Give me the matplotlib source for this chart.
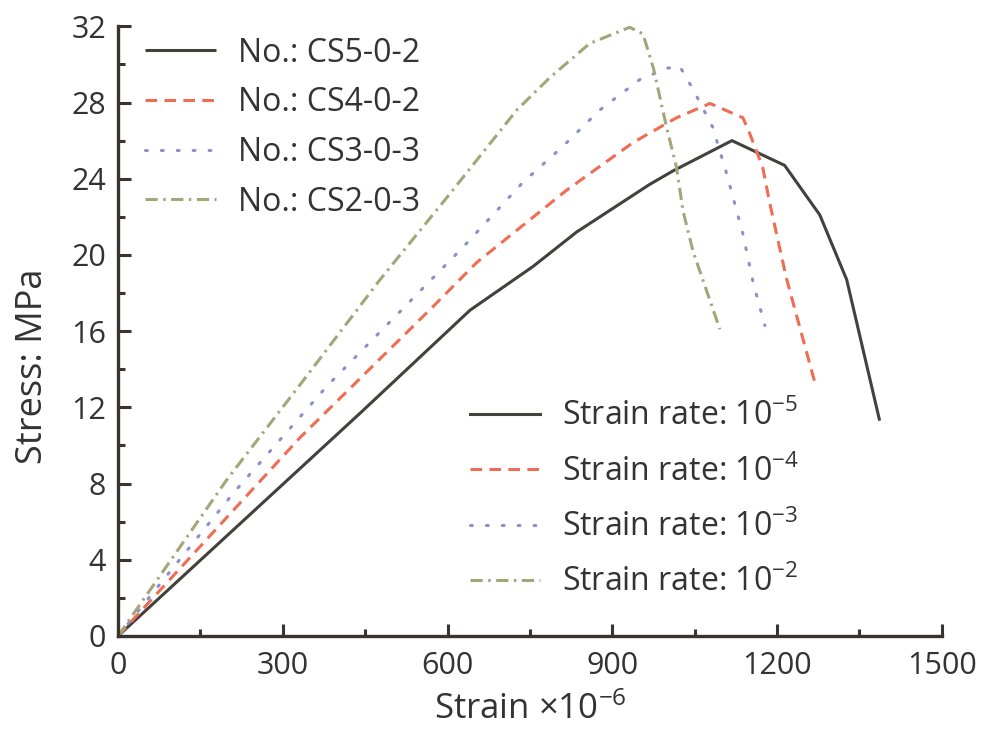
import matplotlib
matplotlib.use("Agg")
import matplotlib.pyplot as plt
from matplotlib.lines import Line2D
from matplotlib.ticker import MultipleLocator

plt.rcParams['font.family'] = ['Open Sans', 'DejaVu Sans']
plt.rcParams['mathtext.fontset'] = 'custom'
plt.rcParams['mathtext.rm'] = 'Open Sans'
plt.rcParams['mathtext.it'] = 'Open Sans'

# Stress-strain curves (strain in 1e-6, stress in MPa)
strain_cs5 = [0, 441, 641, 756, 835, 968, 1010, 1118, 1214, 1278, 1327, 1387]
stress_cs5 = [0, 11.7, 17.1, 19.4, 21.2, 23.7, 24.4, 26.0, 24.7, 22.1, 18.7, 11.3]

strain_cs4 = [0, 331, 574, 653, 817, 938, 1017, 1078, 1138, 1150, 1174, 1187, 1217, 1269]
stress_cs4 = [0, 10.4, 17.3, 19.6, 23.4, 25.9, 27.2, 27.95, 27.2, 26.4, 24.6, 22.7, 18.8, 13.3]

strain_cs3 = [0, 210, 380, 628, 737, 810, 877, 950, 1000, 1023, 1047, 1083, 1108, 1138, 1157, 1178]
stress_cs3 = [0, 7.5, 13.1, 20.4, 23.8, 25.7, 27.6, 29.2, 29.8, 29.9, 28.7, 26.7, 24.3, 21.1, 18.5, 16.3]

strain_cs2 = [0, 198, 337, 477, 604, 726, 786, 859, 932, 956, 975, 999, 1017, 1029, 1047, 1096]
stress_cs2 = [0, 8.2, 13.4, 18.7, 23.2, 27.6, 29.3, 31.1, 31.95, 31.6, 29.8, 26.7, 24.6, 22.3, 20.2, 16.1]

specimen_labels = ['No.: CS5-0-2', 'No.: CS4-0-2', 'No.: CS3-0-3', 'No.: CS2-0-3']
rate_labels = ['Strain rate: $10^{-5}$', 'Strain rate: $10^{-4}$',
               'Strain rate: $10^{-3}$', 'Strain rate: $10^{-2}$']

x_ticks = [0, 300, 600, 900, 1200, 1500]
y_ticks = [0, 4, 8, 12, 16, 20, 24, 28, 32]

colors = ['#43413c', '#ef6d52', '#8b8fca', '#a2a679']
styles = ['-', (0, (3.8, 2.4)), (0, (0.6, 4.6)), (0, (4.0, 1.8, 0.8, 1.8))]
caps = ['butt', 'butt', 'round', 'butt']
text_color = '#333333'

fig = plt.figure(figsize=(9.84, 7.31), dpi=100)
ax = fig.add_axes([0.12, 0.13, 0.837, 0.834])

series = [(strain_cs5, stress_cs5), (strain_cs4, stress_cs4),
          (strain_cs3, stress_cs3), (strain_cs2, stress_cs2)]
lines = []
for (xs, ys), c, ls, cap in zip(series, colors, styles, caps):
    ln, = ax.plot(xs, ys, color=c, lw=2.2, linestyle=ls,
                  dash_capstyle=cap, solid_capstyle='butt', solid_joinstyle='round')
    lines.append(ln)

ax.set_xlim(0, 1500)
ax.set_ylim(0, 32)
ax.set_xticks(x_ticks)
ax.set_yticks(y_ticks)
ax.xaxis.set_minor_locator(MultipleLocator(150))
ax.yaxis.set_minor_locator(MultipleLocator(2))

spine_color = '#3b332e'
for side in ['top', 'right']:
    ax.spines[side].set_visible(False)
for side in ['left', 'bottom']:
    ax.spines[side].set_linewidth(2.4)
    ax.spines[side].set_color(spine_color)

ax.tick_params(which='major', direction='in', length=9, width=2.2, color=spine_color,
               labelsize=22, labelcolor=text_color)
ax.tick_params(which='minor', direction='in', length=5, width=2.2, color=spine_color)
ax.tick_params(axis='x', which='major', pad=11)
ax.tick_params(axis='y', which='major', pad=8.5)

ax.set_xlabel('Strain $\\times10^{-6}$', fontsize=25, color=text_color)
ax.set_ylabel('Stress: MPa', fontsize=26, color=text_color)
ax.xaxis.set_label_coords(0.5, -0.093)
ax.yaxis.set_label_coords(-0.081, 0.443)

legend_kw = dict(frameon=False, fontsize=23, handlelength=2.2, handletextpad=0.7,
                 borderpad=0, borderaxespad=0, labelcolor=text_color)

leg1 = ax.legend(lines, specimen_labels, loc='upper left', bbox_to_anchor=(0.033, 0.983),
                 labelspacing=0.52, **legend_kw)
ax.add_artist(leg1)

handles2 = [Line2D([], [], color=c, lw=2.2, linestyle=ls, dash_capstyle=cap)
            for c, ls, cap in zip(colors, styles, caps)]
ax.legend(handles2, rate_labels, loc='lower left', bbox_to_anchor=(0.427, 0.06),
          labelspacing=0.69, **legend_kw)

fig.savefig('out.png', dpi=100)
